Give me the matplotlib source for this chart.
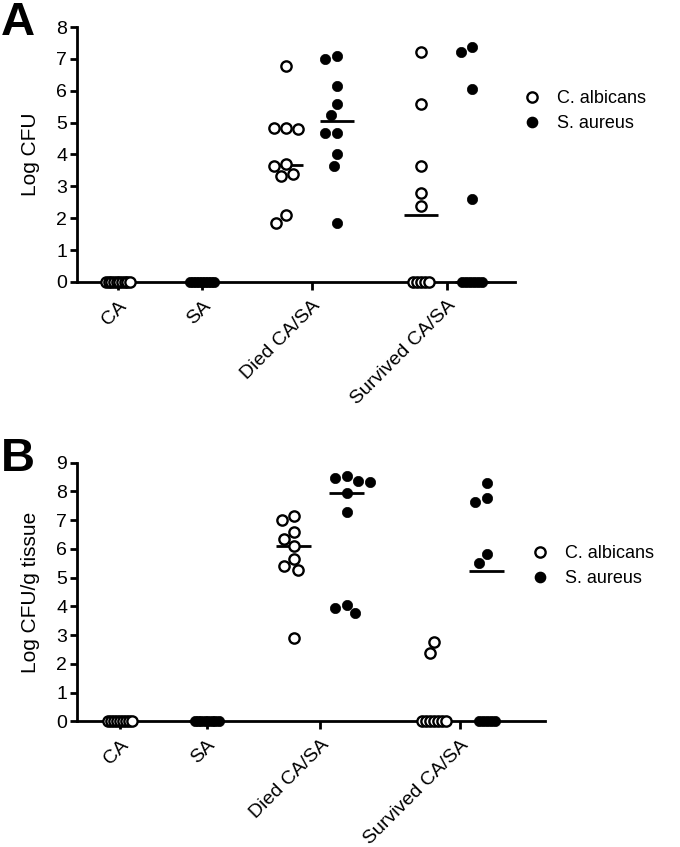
import matplotlib
matplotlib.use('Agg')

import matplotlib.pyplot as plt
import numpy as np

# ==========================================
# 1. data (log CFU)
# ==========================================
GROUPS = ['CA', 'SA', 'Died CA/SA', 'Survived CA/SA']
LEGEND = ['C. albicans', 'S. aureus']

# panel A: Log CFU
a_ca_only = [0, 0, 0, 0, 0, 0, 0, 0, 0, 0]
a_sa_only = [0, 0, 0, 0, 0, 0, 0, 0, 0]
a_died_ca = [6.77, 4.83, 4.80, 4.83, 3.70, 3.64, 3.39, 3.32, 2.09, 1.86]
a_died_sa = [7.08, 7.01, 6.14, 5.57, 5.24, 4.66, 4.66, 4.01, 3.65, 1.86]
a_surv_ca = [7.22, 5.57, 3.65, 2.78, 2.39, 0, 0, 0, 0, 0]
a_surv_sa = [7.38, 7.22, 6.06, 2.61, 0, 0, 0, 0, 0, 0]
a_medians = [0, 0, 3.68, 5.05, 2.09, 0]

# panel B: Log CFU/g tissue
b_ca_only = [0, 0, 0, 0, 0, 0, 0, 0, 0]
b_sa_only = [0, 0, 0, 0, 0, 0, 0, 0]
b_died_ca = [7.16, 7.01, 6.60, 6.33, 6.10, 5.66, 5.40, 5.27, 2.89]
b_died_sa = [8.54, 8.48, 8.37, 8.34, 7.93, 7.29, 4.05, 3.94, 3.76]
b_surv_ca = [2.77, 2.37, 0, 0, 0, 0, 0, 0, 0]
b_surv_sa = [8.30, 7.76, 7.64, 5.82, 5.50, 0, 0, 0, 0, 0]
b_medians = [0, 0, 6.10, 7.93, 0, 5.22]

# ==========================================
# 2. style
# ==========================================
plt.rcParams['font.family'] = ['Liberation Sans', 'DejaVu Sans']
FS_TICK = 14
FS_LABEL = 15
FS_LEG = 13
LW = 2.0
MS = 7.4           # marker diameter in pt
D_PX = 12.0        # swarm spacing, pixels
ZERO_STEP = 4.0    # spacing inside a pile of zeros, pixels
CAP_PX = 12.0      # max half width of a pile of zeros, pixels
MED_HALF = 0.2     # half length of median bar (x units)

# column positions: groups 1 apart, pair members 0.61 apart
PAIR = 0.61
COL_X = [1.0, 2.0, 3.0, 3.0 + PAIR, 4.0 + PAIR, 4.0 + 2 * PAIR]
TICK_X = [1.0, 2.0, 3.0 + PAIR / 2, 4.0 + 1.5 * PAIR]
IS_CA = [True, False, True, False, True, False]


def swarm_offsets(ax, xc, ys):
    """beeswarm-ish horizontal offsets (data units) for one column"""
    ys = np.asarray(ys, dtype=float)
    offs = np.zeros(len(ys))
    pts = ax.transData.transform(np.column_stack([np.full(len(ys), xc), ys]))
    px_per_x = ax.transData.transform((xc + 1, 0))[0] - pts[0, 0]

    # identical zero values get packed tightly side by side
    zero = ys == 0
    nz = int(zero.sum())
    if nz > 1:
        w = min(CAP_PX, (nz - 1) * ZERO_STEP / 2)
        offs[zero] = np.linspace(-w, w, nz)

    placed = []
    idx = [i for i in np.argsort(-ys, kind='stable') if not zero[i]]
    for i in idx:
        y = pts[i, 1]
        cands = [0.0]
        for (qx, qy) in placed:
            dy = y - qy
            if abs(dy) < D_PX:
                dx = np.sqrt(D_PX ** 2 - dy ** 2)
                cands += [qx + dx, qx - dx]
        cands.sort(key=lambda c: (round(abs(c), 6), c))
        best = cands[-1]
        for c in cands:
            if all((c - qx) ** 2 + (y - qy) ** 2 >= D_PX ** 2 - 1e-6 for qx, qy in placed):
                best = c
                break
        placed.append((best, y))
        offs[i] = best
    return offs / px_per_x


def draw_panel(fig, rect, columns, medians, ymax, xmax, ylabel, letter, letter_xy, leg_xy):
    ax = fig.add_axes(rect)
    ax.set_xlim(0.51, xmax)
    ax.set_ylim(0, ymax)

    for xc, ys, med, ca in zip(COL_X, columns, medians, IS_CA):
        ax.plot([xc - MED_HALF, xc + MED_HALF], [med, med], color='black',
                lw=LW, solid_capstyle='butt', zorder=2, clip_on=False)
        offs = swarm_offsets(ax, xc, ys)
        if ca:
            ax.scatter(xc + offs, ys, s=MS ** 2, facecolors='white', edgecolors='black',
                       linewidths=1.7, zorder=4, clip_on=False)
        else:
            ax.scatter(xc + offs, ys, s=MS ** 2, facecolors='black', edgecolors='black',
                       linewidths=0.5, zorder=4, clip_on=False)

    for s in ['top', 'right']:
        ax.spines[s].set_visible(False)
    for s in ['left', 'bottom']:
        ax.spines[s].set_linewidth(LW)
        ax.spines[s].set_zorder(3)

    ax.set_yticks(range(0, ymax + 1))
    ax.set_xticks(TICK_X)
    ax.set_xticklabels(GROUPS, rotation=45, ha='right', va='top', rotation_mode='anchor')
    ax.tick_params(axis='y', direction='out', length=5, width=LW, pad=2, labelsize=FS_TICK)
    ax.tick_params(axis='x', direction='out', length=6, width=LW, pad=5, labelsize=FS_TICK)
    ax.set_ylabel(ylabel, fontsize=FS_LABEL, labelpad=12)

    fig.text(letter_xy[0], letter_xy[1], letter, fontsize=34, fontweight='bold',
             ha='left', va='top')

    h_ca = plt.Line2D([], [], ls='none', marker='o', ms=MS, mfc='white', mec='black', mew=1.7)
    h_sa = plt.Line2D([], [], ls='none', marker='o', ms=MS, mfc='black', mec='black')
    ax.legend([h_ca, h_sa], LEGEND, loc='upper left', bbox_to_anchor=leg_xy,
              bbox_transform=fig.transFigure, frameon=False, fontsize=FS_LEG,
              handlelength=1.0, handletextpad=0.9, labelspacing=0.45,
              borderpad=0, borderaxespad=0)
    return ax


# ==========================================
# 3. main
# ==========================================
def main():
    fig = plt.figure(figsize=(6.8, 8.47), dpi=100)

    cols_a = [a_ca_only, a_sa_only, a_died_ca, a_died_sa, a_surv_ca, a_surv_sa]
    cols_b = [b_ca_only, b_sa_only, b_died_ca, b_died_sa, b_surv_ca, b_surv_sa]

    draw_panel(fig, [77 / 680, 1 - 282 / 847, 438 / 680, 255 / 847], cols_a, a_medians,
               8, 5.73, 'Log CFU', 'A', (0.001, 0.999), (523 / 680, 1 - 90 / 847))
    draw_panel(fig, [77 / 680, 1 - 721.4 / 847, 468 / 680, 258.7 / 847], cols_b, b_medians,
               9, 5.89, 'Log CFU/g tissue', 'B', (0.001, 1 - 437 / 847), (531 / 680, 1 - 545 / 847))

    fig.savefig('out.png', dpi=100)
    plt.close(fig)


if __name__ == "__main__":
    main()
